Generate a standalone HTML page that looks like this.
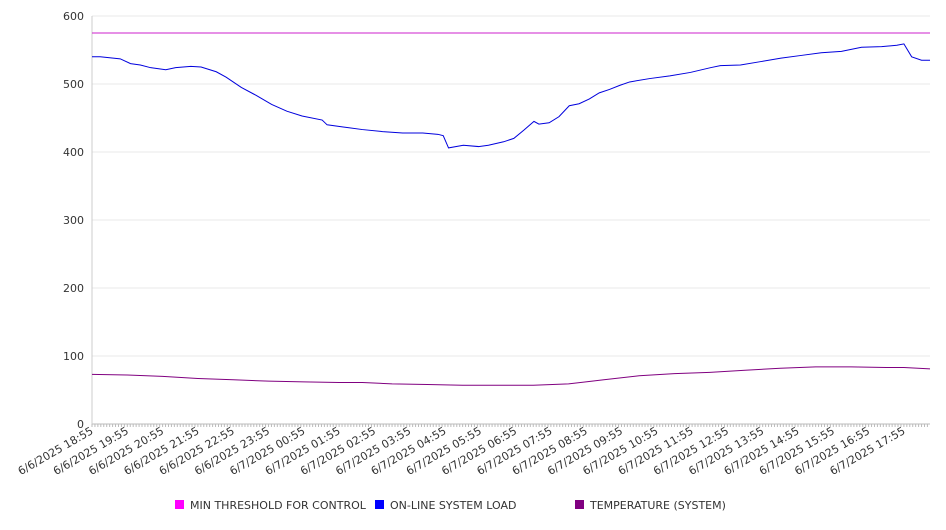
<!DOCTYPE html>
<html><head><meta charset="utf-8"><style>
body{margin:0;background:#fff;font-family:"DejaVu Sans","Liberation Sans",sans-serif;}
svg text{font-family:"DejaVu Sans","Liberation Sans",sans-serif;font-size:11px;fill:#333;}
</style></head><body>
<svg id="chart" width="946" height="526"></svg>
<script>
const tickLabels=["6/6/2025 18:55","6/6/2025 19:55","6/6/2025 20:55","6/6/2025 21:55","6/6/2025 22:55","6/6/2025 23:55","6/7/2025 00:55","6/7/2025 01:55","6/7/2025 02:55","6/7/2025 03:55","6/7/2025 04:55","6/7/2025 05:55","6/7/2025 06:55","6/7/2025 07:55","6/7/2025 08:55","6/7/2025 09:55","6/7/2025 10:55","6/7/2025 11:55","6/7/2025 12:55","6/7/2025 13:55","6/7/2025 14:55","6/7/2025 15:55","6/7/2025 16:55","6/7/2025 17:55"];
const yTicks=[0,100,200,300,400,500,600];
const threshold=575;
const loadHours=[0,0.23,0.8,1.09,1.37,1.66,2.09,2.37,2.8,3.09,3.52,3.8,4.23,4.66,5.09,5.52,5.95,6.52,6.66,7.09,7.66,8.23,8.8,9.37,9.8,9.95,10.1,10.52,10.95,11.23,11.66,11.95,12.23,12.52,12.66,12.95,13.23,13.52,13.8,14.09,14.37,14.66,14.95,15.23,15.8,16.37,16.95,17.52,17.8,18.37,18.95,19.52,20.09,20.66,21.23,21.8,22.37,22.8,23.0,23.22,23.5,23.74];
const loadValues=[540,540,537,530,528,524,521,524,526,525,518,510,495,483,470,460,453,447,440,437,433,430,428,428,426,424,406,410,408,410,415,420,432,445,441,443,452,468,471,478,487,492,498,503,508,512,517,524,527,528,533,538,542,546,548,554,555,557,559,540,535,535];
const tempHours=[0,1,2,3,4,5,6,7,7.66,8.5,9.5,10.5,11.5,12.5,13.5,14.5,15.5,16.5,17.5,18.5,19.5,20.5,21.5,22.5,23,23.74];
const tempValues=[73,72,70,67,65,63,62,61,61,59,58,57,57,57,59,65,71,74,76,79,82,84,84,83,83,81];
const NS="http://www.w3.org/2000/svg";
const svg=document.getElementById('chart');
const L=92,R=930,T=16,B=424,PXH=35.3;
const xs=h=>L+h*PXH;
const ys=v=>B-v*(B-T)/600;
function mk(tag,attrs,parent){const e=document.createElementNS(NS,tag);for(const k in attrs)e.setAttribute(k,attrs[k]);(parent||svg).appendChild(e);return e;}
yTicks.forEach(v=>{
  const g=mk('line',{x1:L,x2:R,y1:ys(v),y2:ys(v),stroke:v===0?'#bbb':'#e8e8e8','stroke-width':1});
  
  
  const t=mk('text',{x:84,y:ys(v)+4,'text-anchor':'end'});t.textContent=v;
  
  
});
const ax=mk('line',{x1:L,x2:L,y1:T,y2:B,stroke:'#ccc'});


for(let i=0;i<286;i++){const x=xs(i/12);if(x>R)break;const m=mk('line',{x1:x,x2:x,y1:B,y2:B+3,stroke:'#bbb'});
  
  }
tickLabels.forEach((s,i)=>{const x=xs(i)+2,y=B+9;
  const t=mk('text',{x:x,y:y,'text-anchor':'end',transform:`rotate(-30 ${x} ${y})`});t.textContent=s;
  
  });
const th=mk('line',{x1:L,x2:R,y1:ys(threshold),y2:ys(threshold),stroke:'#cc22cc','stroke-width':1});


const lp=mk('polyline',{points:loadHours.map((h,i)=>xs(h)+','+ys(loadValues[i])).join(' '),fill:'none',stroke:'#0000dd','stroke-width':1});


const tp=mk('polyline',{points:tempHours.map((h,i)=>xs(h)+','+ys(tempValues[i])).join(' '),fill:'none',stroke:'#800080','stroke-width':1});


[[175,'#ff00ff','MIN THRESHOLD FOR CONTROL'],[375,'#0000ff','ON-LINE SYSTEM LOAD'],[575,'#800080','TEMPERATURE (SYSTEM)']].forEach(([x,c,s])=>{
  const g=mk('g',{});
  
  
  mk('rect',{x:x,y:500,width:9,height:9,fill:c},g);
  const t=mk('text',{x:x+15,y:509},g);t.textContent=s;
});
</script>
</body></html>
